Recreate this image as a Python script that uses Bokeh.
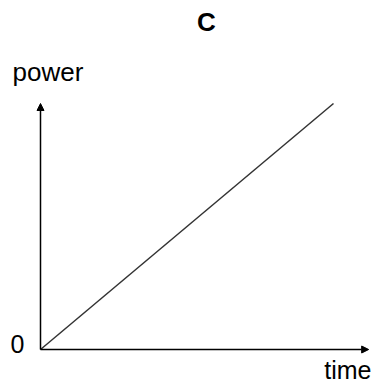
from bokeh.plotting import figure
from bokeh.models import Arrow, NormalHead, Label, Range1d
from bokeh.embed import file_html
from bokeh.resources import INLINE

# data
time = [0, 10]
power = [0, 10]
x_axis_extent = 11.2
y_axis_extent = 10.0
title_text = "C"
x_label = "time"
y_label = "power"
origin_label = "0"

W, H = 375, 383
# pixel positions of origin within figure (from left, from bottom)
ox, oy = 40, 34
sx = (333 - ox) / 10.0
sy = (280 - oy) / 10.0

p = figure(width=W, height=H, output_backend="svg", toolbar_location=None,
           x_range=Range1d(-ox / sx, (W - ox) / sx),
           y_range=Range1d(-oy / sy, (H - oy) / sy),
           min_border=0)
p.axis.visible = False
p.grid.visible = False
p.outline_line_color = None
p.background_fill_color = "white"
p.border_fill_color = "white"

p.line(time, power, line_color="#333333", line_width=1.5)

p.add_layout(Arrow(end=NormalHead(size=7, fill_color="black", line_color="black"),
                   x_start=0, y_start=0, x_end=x_axis_extent, y_end=0,
                   line_color="black", line_width=1.5))
p.add_layout(Arrow(end=NormalHead(size=7, fill_color="black", line_color="black"),
                   x_start=0, y_start=0, x_end=0, y_end=y_axis_extent,
                   line_color="black", line_width=1.5))

font = "Liberation Sans"
p.add_layout(Label(x=206, y=H - 21, x_units="screen", y_units="screen", text=title_text,
                   text_font=font, text_font_size="26px", text_font_style="bold",
                   text_align="center", text_baseline="middle", text_color="black"))
p.add_layout(Label(x=12, y=H - 71, x_units="screen", y_units="screen", text=y_label,
                   text_font=font, text_font_size="26px",
                   text_align="left", text_baseline="middle", text_color="black"))
p.add_layout(Label(x=10, y=H - 343, x_units="screen", y_units="screen", text=origin_label,
                   text_font=font, text_font_size="25px",
                   text_align="left", text_baseline="middle", text_color="black"))
p.add_layout(Label(x=371, y=H - 369, x_units="screen", y_units="screen", text=x_label,
                   text_font=font, text_font_size="25px",
                   text_align="right", text_baseline="middle", text_color="black"))

open("out.html", "w").write(file_html(p, INLINE))
